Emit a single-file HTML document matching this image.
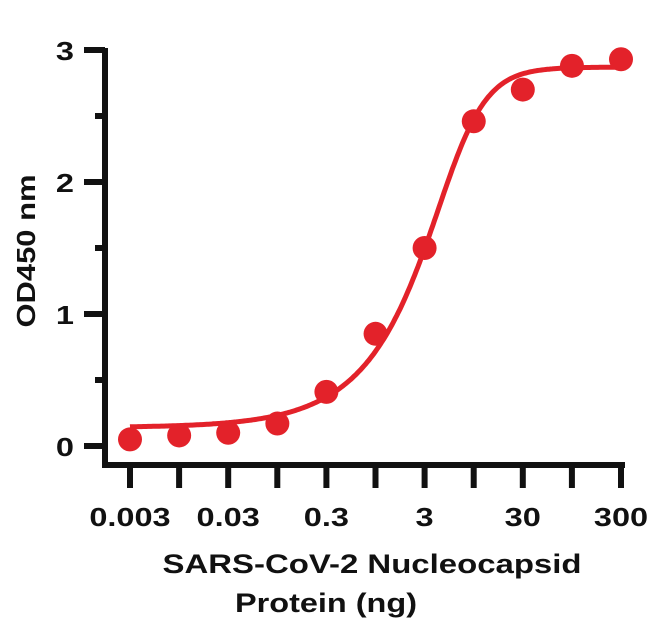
<!DOCTYPE html>
<html><head><meta charset="utf-8"><style>
body{margin:0;background:#fff}
svg{display:block}
text{font-family:"Liberation Sans",Arial,sans-serif;font-weight:bold;fill:#111}
</style></head><body>
<svg id="chart" width="650" height="626" viewBox="0 0 650 626">
<g id="axes"></g><g id="marks"></g>
<text id="ytitle" transform="translate(35,251) rotate(-90)" text-anchor="middle" font-size="26" textLength="153" lengthAdjust="spacingAndGlyphs">OD450 nm</text>
<text x="372" y="573" text-anchor="middle" font-size="27" textLength="419" lengthAdjust="spacingAndGlyphs">SARS-CoV-2 Nucleocapsid</text>
<text x="326" y="612" text-anchor="middle" font-size="27" textLength="182" lengthAdjust="spacingAndGlyphs">Protein (ng)</text>
</svg>
<script>
const xTicks=[0.003,0.03,0.3,3,30,300];
const xTickLabels=["0.003","0.03","0.3","3","30","300"];
const yTicks=[0,1,2,3];
const concentrations=[0.003,0.0095,0.03,0.095,0.3,0.95,3,9.5,30,95,300];
const od450=[0.05,0.08,0.1,0.17,0.41,0.85,1.5,2.46,2.7,2.88,2.93];
const fitParams=[0.14,2.87,6.55,2.0,0.4];
const NS="http://www.w3.org/2000/svg";
const xs=v=>130+(Math.log10(v)-Math.log10(0.003))*98.2;
const ys=v=>446-v*132;
function mk(tag,attrs,parent){const el=document.createElementNS(NS,tag);for(const k in attrs)el.setAttribute(k,attrs[k]);parent.appendChild(el);return el;}
function stretch(t,f){const w=t.getComputedTextLength();t.setAttribute('textLength',(w*f).toFixed(1));t.setAttribute('lengthAdjust','spacingAndGlyphs');}
const ax=document.getElementById('axes'),mg=document.getElementById('marks');
let el=mk('path',{d:'M105,48 V465 H625',fill:'none',stroke:'#111','stroke-width':6},ax);


yTicks.forEach(t=>{
 let l=mk('line',{x1:84,x2:105,y1:ys(t),y2:ys(t),stroke:'#111','stroke-width':6},ax);
 
 
 let tx=mk('text',{x:74,y:ys(t)+10,'text-anchor':'end','font-size':26},ax);tx.textContent=t;
 
 
 stretch(tx,1.25);
 if(t<3){let m=mk('line',{x1:95,x2:105,y1:ys(t+0.5),y2:ys(t+0.5),stroke:'#111','stroke-width':6},ax);
 
 }
});
for(let i=0;i<xTicks.length;i++){
 const x=xs(xTicks[i]);
 let l=mk('line',{x1:x,x2:x,y1:465,y2:488,stroke:'#111','stroke-width':6},ax);
 
 
 let tx=mk('text',{x:x,y:526,'text-anchor':'middle','font-size':26},ax);tx.textContent=xTickLabels[i];
 
 
 stretch(tx,1.25);
 if(i<xTicks.length-1){const xm=xs(xTicks[i]*Math.sqrt(10));
 let m=mk('line',{x1:xm,x2:xm,y1:465,y2:488,stroke:'#111','stroke-width':6},ax);
 
 }
}
const fitBottom=fitParams[0],fitTop=fitParams[1],fitC=fitParams[2],fitHill=fitParams[3],fitS=fitParams[4];
let d='';
for(let k=0;k<=300;k++){const lv=Math.log10(0.003)+k/300*5;const v=Math.pow(10,lv);
 const y=fitBottom+(fitTop-fitBottom)/Math.pow(1+Math.pow(fitC/v,fitHill),fitS);d+=(k?'L':'M')+xs(v).toFixed(1)+','+ys(y).toFixed(1);}
el=mk('path',{d:d,fill:'none',stroke:'#e3222a','stroke-width':5},mg);


concentrations.forEach((c,i)=>{
 let p=mk('circle',{cx:xs(c),cy:ys(od450[i]),r:12,fill:'#e3222a'},mg);
 
 
});
</script>
</body></html>
